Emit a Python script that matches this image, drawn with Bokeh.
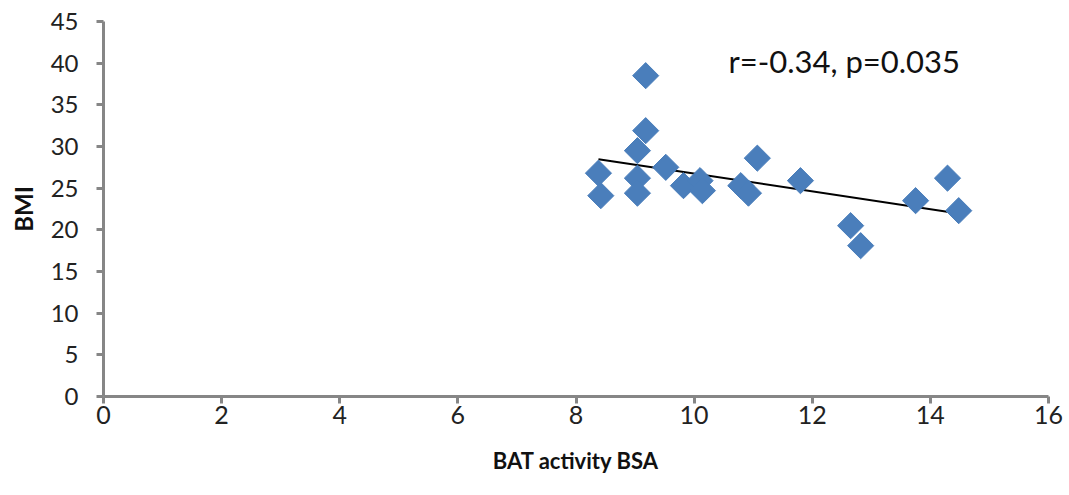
import numpy as np
from bokeh.plotting import figure
from bokeh.models import Range1d, FixedTicker, Label
from bokeh.embed import file_html
from bokeh.resources import INLINE

# Data
bat_bsa = [8.38, 8.42, 9.18, 9.18, 9.04, 9.04, 9.04, 9.52, 9.82, 10.10,
           10.14, 10.79, 10.92, 11.07, 11.80, 12.65, 12.82, 13.75, 14.29, 14.48]
bmi = [26.8, 24.1, 38.5, 31.9, 29.5, 26.2, 24.4, 27.5, 25.3, 25.9,
       24.7, 25.3, 24.4, 28.6, 25.9, 20.5, 18.1, 23.5, 26.2, 22.3]
x_ticks = [0, 2, 4, 6, 8, 10, 12, 14, 16]
y_ticks = [0, 5, 10, 15, 20, 25, 30, 35, 40, 45]
annotation = "r=-0.34, p=0.035"

FONT = "Lato"
AXIS_GRAY = "#868686"

p = figure(width=1069, height=495, output_backend="svg", toolbar_location=None,
           x_range=Range1d(0, 16), y_range=Range1d(0, 45),
           min_border_left=103, min_border_right=21, min_border_top=21, min_border_bottom=99)
p.outline_line_color = None
p.grid.grid_line_color = None

# Trend line (least-squares fit of the data)
slope, intercept = np.polyfit(bat_bsa, bmi, 1)
tx = np.array([min(bat_bsa), max(bat_bsa)])
p.line(tx, slope * tx + intercept, line_color="black", line_width=2)

p.scatter(bat_bsa, bmi, marker="square", angle=np.pi / 4, size=18.5,
          fill_color="#4A7EBB", line_color="#4A7EBB")

p.xaxis.ticker = FixedTicker(ticks=x_ticks)
p.yaxis.ticker = FixedTicker(ticks=y_ticks)
for ax in (p.xaxis[0], p.yaxis[0]):
    ax.axis_line_color = AXIS_GRAY
    ax.axis_line_width = 3
    ax.major_tick_line_color = AXIS_GRAY
    ax.major_tick_line_width = 3
    ax.major_tick_out = 7
    ax.major_tick_in = 0
    ax.minor_tick_line_color = None
    ax.major_label_text_font = FONT
    ax.major_label_text_color = "#222222"
    ax.axis_label_text_font = FONT
    ax.axis_label_text_font_style = "bold"
    ax.axis_label_text_color = "#111111"

p.xaxis.axis_label = "BAT activity BSA"
p.yaxis.axis_label = "BMI"
p.xaxis.major_label_text_font_size = "25px"
p.yaxis.major_label_text_font_size = "24px"
p.xaxis.axis_label_text_font_size = "22px"
p.yaxis.axis_label_text_font_size = "24px"
p.xaxis.major_label_standoff = 2
p.yaxis.major_label_standoff = 18
p.xaxis.axis_label_standoff = 20
p.yaxis.axis_label_standoff = 10

p.add_layout(Label(x=10.58, y=40.3, text=annotation, text_font=FONT,
                   text_font_size="31px", text_baseline="middle", text_align="left",
                   text_color="#111111"))

open("out.html", "w").write(file_html(p, INLINE))
